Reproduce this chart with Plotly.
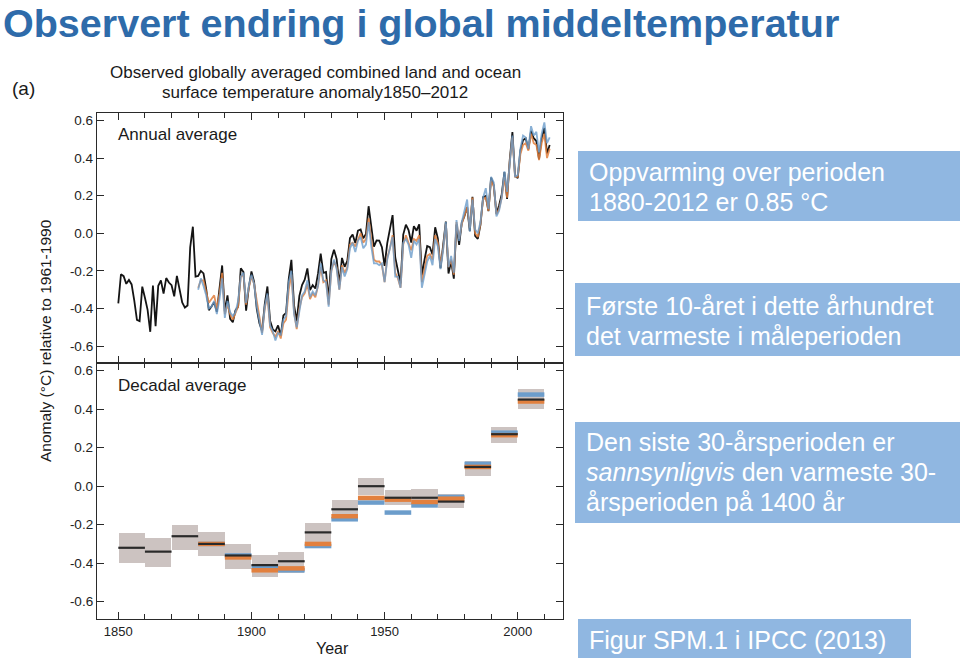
import plotly.graph_objects as go

# ---------------- data ----------------
years_had = list(range(1850, 2013))
had_annual = [
    -0.373, -0.218, -0.228, -0.269, -0.248, -0.272, -0.358, -0.461, -0.467, -0.284,
    -0.343, -0.407, -0.524, -0.278, -0.494, -0.279, -0.251, -0.321, -0.238, -0.262,
    -0.276, -0.335, -0.227, -0.304, -0.368, -0.395, -0.384, -0.075, 0.035, -0.230,
    -0.227, -0.200, -0.213, -0.296, -0.409, -0.389, -0.367, -0.418, -0.307, -0.171,
    -0.416, -0.330, -0.455, -0.473, -0.410, -0.390, -0.186, -0.206, -0.412, -0.289,
    -0.203, -0.259, -0.402, -0.479, -0.520, -0.377, -0.283, -0.465, -0.511, -0.522,
    -0.490, -0.544, -0.437, -0.424, -0.244, -0.141, -0.383, -0.468, -0.333, -0.275,
    -0.247, -0.187, -0.302, -0.276, -0.294, -0.215, -0.108, -0.210, -0.206, -0.350,
    -0.137, -0.087, -0.137, -0.273, -0.131, -0.178, -0.147, -0.026, -0.006, -0.052,
    0.014, 0.020, -0.027, -0.004, 0.144, 0.025, -0.071, -0.038, -0.039, -0.074,
    -0.173, -0.052, 0.028, 0.097, -0.129, -0.190, -0.267, -0.007, 0.046, 0.017,
    -0.049, 0.038, 0.014, 0.048, -0.223, -0.140, -0.068, -0.074, -0.113, 0.032,
    -0.027, -0.186, -0.065, 0.062, -0.214, -0.149, -0.241, 0.047, -0.062, 0.057,
    0.092, 0.140, 0.011, 0.194, -0.014, -0.030, 0.045, 0.192, 0.198, 0.118,
    0.296, 0.254, 0.105, 0.148, 0.208, 0.325, 0.183, 0.390, 0.539, 0.306,
    0.294, 0.441, 0.496, 0.505, 0.447, 0.545, 0.506, 0.491, 0.395, 0.506,
    0.560, 0.425, 0.470,
]

years_other = list(range(1880, 2013))
noaa_annual = [
    -0.29, -0.25, -0.25, -0.32, -0.37, -0.35, -0.33, -0.40, -0.32, -0.21,
    -0.43, -0.38, -0.43, -0.46, -0.42, -0.39, -0.23, -0.22, -0.38, -0.29,
    -0.23, -0.27, -0.36, -0.45, -0.53, -0.40, -0.33, -0.50, -0.53, -0.55,
    -0.52, -0.56, -0.48, -0.46, -0.30, -0.22, -0.42, -0.51, -0.40, -0.34,
    -0.32, -0.27, -0.35, -0.32, -0.34, -0.28, -0.18, -0.26, -0.25, -0.38,
    -0.20, -0.15, -0.18, -0.30, -0.17, -0.21, -0.18, -0.06, -0.05, -0.07,
    -0.03, 0.00, -0.05, -0.03, 0.08, -0.04, -0.14, -0.15, -0.15, -0.17,
    -0.26, -0.13, -0.08, -0.01, -0.21, -0.24, -0.29, -0.06, -0.01, -0.05,
    -0.09, -0.03, -0.04, -0.01, -0.26, -0.19, -0.12, -0.11, -0.14, -0.01,
    -0.05, -0.17, -0.08, 0.05, -0.18, -0.14, -0.22, 0.06, -0.03, 0.05,
    0.10, 0.14, 0.03, 0.19, 0.00, -0.02, 0.05, 0.18, 0.19, 0.12,
    0.28, 0.25, 0.10, 0.13, 0.19, 0.30, 0.19, 0.38, 0.51, 0.30,
    0.30, 0.42, 0.47, 0.48, 0.44, 0.53, 0.48, 0.47, 0.39, 0.48,
    0.53, 0.40, 0.45,
]
giss_annual = [
    -0.30, -0.24, -0.28, -0.33, -0.40, -0.39, -0.36, -0.43, -0.35, -0.24,
    -0.45, -0.36, -0.42, -0.44, -0.42, -0.36, -0.23, -0.21, -0.37, -0.28,
    -0.22, -0.27, -0.39, -0.47, -0.54, -0.39, -0.32, -0.49, -0.52, -0.57,
    -0.53, -0.54, -0.46, -0.44, -0.26, -0.20, -0.43, -0.50, -0.41, -0.33,
    -0.31, -0.25, -0.34, -0.31, -0.33, -0.28, -0.16, -0.25, -0.26, -0.39,
    -0.20, -0.14, -0.19, -0.30, -0.18, -0.23, -0.19, -0.08, -0.05, -0.10,
    -0.04, -0.02, -0.08, -0.06, 0.06, -0.07, -0.16, -0.16, -0.17, -0.16,
    -0.26, -0.14, -0.08, -0.02, -0.23, -0.23, -0.29, -0.05, -0.03, -0.06,
    -0.13, -0.04, -0.06, -0.03, -0.29, -0.21, -0.15, -0.12, -0.17, -0.03,
    -0.07, -0.19, -0.09, 0.06, -0.18, -0.12, -0.21, 0.07, -0.04, 0.06,
    0.12, 0.18, 0.01, 0.18, 0.02, 0.00, 0.06, 0.19, 0.24, 0.13,
    0.30, 0.27, 0.09, 0.12, 0.19, 0.33, 0.22, 0.36, 0.52, 0.30,
    0.31, 0.45, 0.52, 0.51, 0.45, 0.57, 0.52, 0.54, 0.43, 0.53,
    0.59, 0.48, 0.51,
]

decade_start = [1850, 1860, 1870, 1880, 1890, 1900, 1910, 1920,
                1930, 1940, 1950, 1960, 1970, 1980, 1990, 2000]
had_decadal = [-0.32, -0.34, -0.26, -0.30, -0.36, -0.41, -0.39, -0.24,
               -0.12, 0.00, -0.06, -0.06, -0.08, 0.10, 0.27, 0.45]
had_dec_low = [-0.40, -0.42, -0.33, -0.365, -0.43, -0.47, -0.45, -0.30,
               -0.177, -0.047, -0.10, -0.10, -0.115, 0.052, 0.224, 0.40]
had_dec_high = [-0.245, -0.27, -0.20, -0.24, -0.30, -0.36, -0.34, -0.19,
                -0.073, 0.04, -0.02, -0.016, -0.04, 0.13, 0.31, 0.505]
noaa_decadal = [None, None, None, -0.30, -0.37, -0.437, -0.427, -0.30,
                -0.156, -0.061, -0.07, -0.082, -0.065, 0.10, 0.265, 0.44]
giss_decadal = [None, None, None, -0.30, -0.36, -0.42, -0.437, -0.311,
                -0.172, -0.085, -0.137, -0.10, -0.056, 0.116, 0.278, 0.476]

y_tickvals = [-0.6, -0.4, -0.2, 0.0, 0.2, 0.4, 0.6]
y_ticktext = ["-0.6", "-0.4", "-0.2", "0.0", "0.2", "0.4", "0.6"]

# ---------------- styling ----------------
W, H = 960, 667
FONT = "Liberation Sans, Arial, Helvetica, sans-serif"
BLACK = "#141414"
ORANGE = "#E2803E"
BLUE = "#6C9DCB"
BOXFILL = "#CCC3C1"
PANEL_BLUE = "#90B7E1"
TITLE_BLUE = "#2E6BAA"
AXIS_COL = "#2a2a2a"


def px(x):
    return x / W


def py(y):
    return 1 - y / H


def segments(starts, vals):
    xs, ys = [], []
    for s, v in zip(starts, vals):
        if v is None:
            continue
        xs += [s, s + 10, None]
        ys += [v, v, None]
    return xs, ys


fig = go.Figure()

# annual
fig.add_trace(go.Scatter(x=years_had, y=had_annual, mode="lines",
                         line=dict(color=BLACK, width=1.8), xaxis="x", yaxis="y",
                         showlegend=False))
fig.add_trace(go.Scatter(x=years_other, y=noaa_annual, mode="lines",
                         line=dict(color=ORANGE, width=1.8), opacity=0.85,
                         xaxis="x", yaxis="y", showlegend=False))
fig.add_trace(go.Scatter(x=years_other, y=giss_annual, mode="lines",
                         line=dict(color=BLUE, width=1.8), opacity=0.8,
                         xaxis="x", yaxis="y", showlegend=False))

# decadal boxes
fig.add_trace(go.Bar(x=[s + 5 for s in decade_start],
                     y=[h - l for h, l in zip(had_dec_high, had_dec_low)],
                     base=had_dec_low, width=9.8,
                     marker=dict(color=BOXFILL, line=dict(width=0)),
                     xaxis="x2", yaxis="y2", showlegend=False))
for vals, col, wdt in [(giss_decadal, BLUE, 4.5), (noaa_decadal, ORANGE, 4.5),
                       (had_decadal, "#2a2a2a", 2.2)]:
    sx, sy = segments(decade_start, vals)
    fig.add_trace(go.Scatter(x=sx, y=sy, mode="lines",
                             line=dict(color=col, width=wdt),
                             xaxis="x2", yaxis="y2", showlegend=False))

xdom = [px(97), px(563)]
top_dom = [py(363), py(113)]
bot_dom = [py(619), py(363)]
yrange = [-0.69, 0.64]
xrange = [1842, 2017]

common_x = dict(range=xrange, domain=xdom, tickmode="linear", tick0=1850, dtick=50,
                ticks="inside", ticklen=7, tickwidth=1.3, tickcolor=AXIS_COL,
                showline=True, linecolor=AXIS_COL, linewidth=1.3, mirror="ticks",
                showgrid=False, zeroline=False,
                minor=dict(dtick=10, tick0=1850, ticks="inside", ticklen=5,
                           tickwidth=1.1, tickcolor=AXIS_COL, showgrid=False),
                tickfont=dict(family=FONT, size=13, color="#222"))
common_y = dict(range=yrange, tickmode="array", tickvals=y_tickvals, ticktext=y_ticktext,
                ticks="inside", ticklen=7, tickwidth=1.3, tickcolor=AXIS_COL,
                showline=True, linecolor=AXIS_COL, linewidth=1.3, mirror="ticks",
                showgrid=False, zeroline=False,
                tickfont=dict(family=FONT, size=13.5, color="#222"))

fig.update_layout(
    width=W, height=H, margin=dict(l=0, r=0, t=0, b=0),
    paper_bgcolor="white", plot_bgcolor="white",
    bargap=0, barmode="overlay",
    xaxis=dict(common_x, anchor="y", showticklabels=False),
    xaxis2=dict(common_x, anchor="y2", matches="x"),
    yaxis=dict(common_y, domain=top_dom, anchor="x"),
    yaxis2=dict(common_y, domain=bot_dom, anchor="x2"),
)

ann = []


def text(x, y, s, size, color="#1a1a1a", xanchor="left", bold=False, angle=0):
    ann.append(dict(x=px(x), y=py(y), xref="paper", yref="paper", text=s,
                    showarrow=False, xanchor=xanchor, yanchor="middle",
                    textangle=angle, borderpad=0,
                    font=dict(family=FONT, size=size, color=color,
                              weight="bold" if bold else "normal")))


text(2, 23, "Observert endring i global middeltemperatur", 39.5, TITLE_BLUE, bold=True)
text(11, 88, "(a)", 19)
text(315, 72, "Observed globally averaged combined land and ocean", 17, xanchor="center")
text(315, 92, "surface temperature anomaly1850\u20132012", 17, xanchor="center")
text(117, 134, "Annual average", 17)
text(117, 385, "Decadal average", 17)
text(45, 341, "Anomaly (\u00b0C) relative to 1961-1990", 15.5, xanchor="center", angle=-90)
text(332, 648, "Year", 16, xanchor="center")

# right-hand info boxes
shapes = []
for x0, y0, x1, y1 in [(578, 151, 960, 221), (575, 283, 960, 356),
                       (575, 422, 960, 523), (578, 619, 911, 658)]:
    shapes.append(dict(type="rect", xref="paper", yref="paper",
                       x0=px(x0), x1=px(x1), y0=py(y1), y1=py(y0),
                       fillcolor=PANEL_BLUE, line=dict(width=0), layer="below"))

W_T = "white"
text(588, 172, "Oppvarming over perioden", 25, W_T)
text(588, 202, "1880-2012 er 0.85 \u00b0C", 25, W_T)
text(585, 306, "Første 10-året i dette århundret", 25, W_T)
text(585, 336, "det varmeste i måleperioden", 25, W_T)
text(585, 442, "Den siste 30-årsperioden er", 25, W_T)
text(585, 472, "<i>sannsynligvis</i> den varmeste 30-", 25, W_T)
text(585, 502, "årsperioden på 1400 år", 25, W_T)
text(588, 640, "Figur SPM.1 i IPCC (2013)", 25, W_T)

fig.update_layout(annotations=ann, shapes=shapes)
fig.write_html("out.html", config={"displayModeBar": False},
               post_script="document.body.style.margin='0px';document.body.style.padding='0px';")
